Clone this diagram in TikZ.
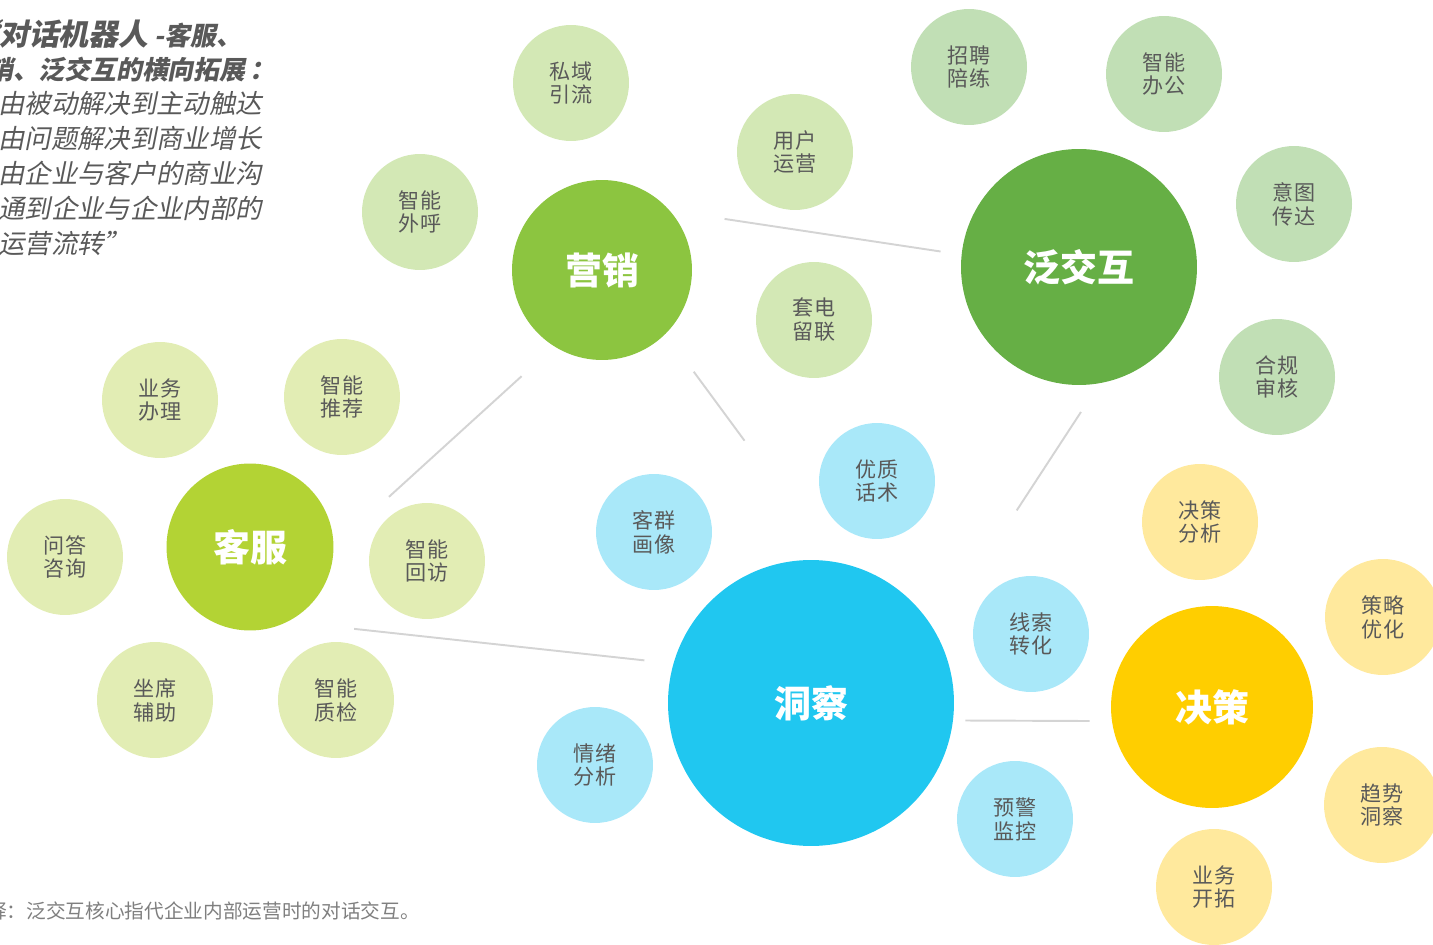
\documentclass[tikz,border=0pt]{standalone}
\usepackage{fontspec}
\setmainfont{Noto Sans CJK SC}
\newfontfamily\slantfont{Noto Sans CJK SC}[FakeSlant=0.2]
\usepackage{tikz}
\usetikzlibrary{positioning,calc}
\definecolor{textgray}{HTML}{595959}
\definecolor{notegray}{HTML}{7F7F7F}
\definecolor{linegray}{HTML}{D4D4D4}
\definecolor{yxdark}{HTML}{8CC540}
\definecolor{yxlight}{HTML}{D3E8B5}
\definecolor{fjdark}{HTML}{66AF45}
\definecolor{fjlight}{HTML}{C1DFB5}
\definecolor{kfdark}{HTML}{B3D334}
\definecolor{kflight}{HTML}{E2EDB4}
\definecolor{dcdark}{HTML}{20C7F0}
\definecolor{dclight}{HTML}{A9E8F9}
\definecolor{jcdark}{HTML}{FFCE00}
\definecolor{jclight}{HTML}{FFE99D}
\tikzstyle{hub}=[circle, inner sep=0pt, text=white, font=\fontsize{21}{25}\selectfont\bfseries]
\tikzstyle{leaf}=[circle, inner sep=0pt, minimum size=2.32cm, text=textgray, align=center, font=\fontsize{12}{13.6}\selectfont]
\tikzstyle{link}=[draw=linegray, line width=1.1pt]
\tikzstyle{quote}=[anchor=base west, inner sep=0pt, text=textgray]

\begin{document}
\begin{tikzpicture}[x=0.02cm,y=-0.02cm]
    \useasboundingbox (0,0) rectangle (1433,945);
    \clip (0,0) rectangle (1433,945);

    % Hubs
    \node[hub, fill=yxdark, minimum size=3.6cm] (yx) at (602,270) {营销};
    \node[hub, fill=fjdark, minimum size=4.72cm] (fj) at (1079,267) {泛交互};
    \node[hub, fill=kfdark, minimum size=3.34cm] (kf) at (250,547) {客服};
    \node[hub, fill=dcdark, minimum size=5.72cm] (dc) at (811,703) {洞察};
    \node[hub, fill=jcdark, minimum size=4.04cm] (jc) at (1212,707) {决策};

    % Links
    \draw[link, shorten <=1.1cm, shorten >=0.42cm] (yx.41) -- (fj.174);
    \draw[link, shorten <=0.88cm, shorten >=1.49cm] (yx.238) -- (kf.0);
    \draw[link, shorten <=0.94cm, shorten >=3cm] (yx.315) -- (dc.81);
    \draw[link, shorten <=0.68cm, shorten >=2.94cm] (fj.280) -- (dc.29);
    \draw[link, shorten <=1.33cm, shorten >=0.58cm] (kf.297) -- (dc.164);
    \draw[link, shorten <=0.24cm, shorten >=0.44cm] (dc.353) -- (jc.188);

    % Marketing
    \node[leaf, fill=yxlight] (yx1) at (571,83) {私域\\引流};
    \node[leaf, fill=yxlight] (yx2) at (795,152) {用户\\运营};
    \node[leaf, fill=yxlight] (yx3) at (420,212) {智能\\外呼};
    \node[leaf, fill=yxlight] (yx4) at (814,320) {套电\\留联};

    % Broad interaction
    \node[leaf, fill=fjlight] (fj1) at (969,67) {招聘\\陪练};
    \node[leaf, fill=fjlight] (fj2) at (1164,74) {智能\\办公};
    \node[leaf, fill=fjlight] (fj3) at (1294,204) {意图\\传达};
    \node[leaf, fill=fjlight] (fj4) at (1277,377) {合规\\审核};

    % Service
    \node[leaf, fill=kflight] (kf1) at (160,400) {业务\\办理};
    \node[leaf, fill=kflight] (kf2) at (342,397) {智能\\推荐};
    \node[leaf, fill=kflight] (kf3) at (65,557) {问答\\咨询};
    \node[leaf, fill=kflight] (kf4) at (427,561) {智能\\回访};
    \node[leaf, fill=kflight] (kf5) at (155,700) {坐席\\辅助};
    \node[leaf, fill=kflight] (kf6) at (336,700) {智能\\质检};

    % Insight
    \node[leaf, fill=dclight] (dc1) at (654,532) {客群\\画像};
    \node[leaf, fill=dclight] (dc2) at (877,481) {优质\\话术};
    \node[leaf, fill=dclight] (dc3) at (1031,634) {线索\\转化};
    \node[leaf, fill=dclight] (dc4) at (595,765) {情绪\\分析};
    \node[leaf, fill=dclight] (dc5) at (1015,819) {预警\\监控};

    % Decision
    \node[leaf, fill=jclight] (jc1) at (1200,522) {决策\\分析};
    \node[leaf, fill=jclight] (jc2) at (1383,617) {策略\\优化};
    \node[leaf, fill=jclight] (jc3) at (1382,805) {趋势\\洞察};
    \node[leaf, fill=jclight] (jc4) at (1214,887) {业务\\开拓};

    % Quote
    \node[quote, font=\slantfont\bfseries] (head1) at (-31,46)
      {{\fontsize{17}{20}\selectfont “对话机器人}{\fontsize{14.7}{18}\selectfont\ -客服、}};
    \node[quote, font=\slantfont\bfseries\fontsize{14.7}{18}\selectfont] (head2) at (-39,80)
      {营销、泛交互的横向拓展\,：};
    \foreach \txt [count=\i] in {由被动解决到主动触达,由问题解决到商业增长,
      由企业与客户的商业沟,通到企业与企业内部的,运营流转”}
      \node[quote, font=\slantfont\fontsize{15}{18}\selectfont] (line\i)
        at (-2,{114+(\i-1)*34.8}) {\txt};

    % Note
    \node[quote, text=notegray, font=\fontsize{11.2}{14}\selectfont] (note) at (-33,918)
      {注释：泛交互核心指代企业内部运营时的对话交互。};

\end{tikzpicture}
\end{document}
